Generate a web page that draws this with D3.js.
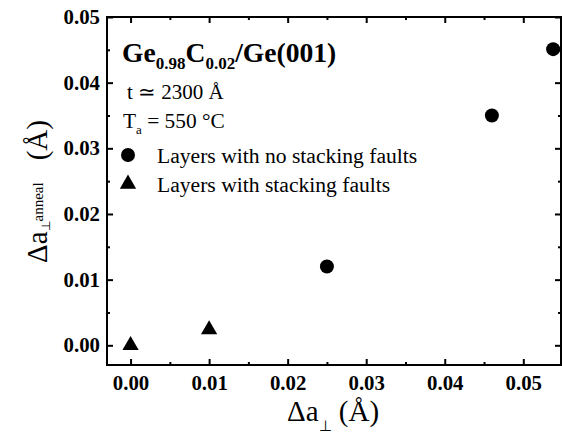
<!DOCTYPE html>
<html>
<head>
<meta charset="utf-8">
<script src="https://cdn.jsdelivr.net/npm/d3@7"></script>
<style>
  html, body { margin: 0; padding: 0; background: #fff; }
  svg { display: block; }
</style>
</head>
<body>
<svg id="chart" width="562" height="434"></svg>
<script>
// Layers without stacking faults (circles)
const noFaultX = [0.025, 0.046, 0.0538];
const noFaultY = [0.012, 0.035, 0.0451];
// Layers with stacking faults (triangles)
const faultX = [0.000, 0.010];
const faultY = [0.000, 0.0024];

const xTicks = [0.00, 0.01, 0.02, 0.03, 0.04, 0.05];
const yTicks = [0.00, 0.01, 0.02, 0.03, 0.04, 0.05];
const xMinor = [0.005, 0.015, 0.025, 0.035, 0.045];
const yMinor = [0.005, 0.015, 0.025, 0.035, 0.045];

const FONT = "'Liberation Serif'";

const svg = d3.select("#chart").style("font-family", FONT);
const L = 107, R = 561, T = 17, B = 365;

const x = d3.scaleLinear().domain([-0.003, 0.0548]).range([L, R]);
const y = d3.scaleLinear().domain([-0.003, 0.05]).range([B, T]);

const fmt = d3.format(".2f");

function styleAxis(g) {
  g.attr("font-family", null);
  g.select(".domain").remove();
  g.selectAll(".tick line").attr("stroke", "#000").attr("stroke-width", 2);
  g.selectAll(".tick text")
    .style("font-family", FONT)
    .style("font-weight", "bold")
    .style("font-size", "20.8px")
    .attr("fill", "#000");
}

// bottom axis: major + minor, ticks pointing inward
svg.append("g").attr("transform", `translate(0,${B})`)
  .call(d3.axisBottom(x).tickValues(xTicks).tickFormat(fmt).tickSize(-6).tickPadding(10))
  .call(styleAxis);
svg.append("g").attr("transform", `translate(0,${B})`)
  .call(d3.axisBottom(x).tickValues(xMinor).tickFormat("").tickSize(-3))
  .call(styleAxis);
// top axis
svg.append("g").attr("transform", `translate(0,${T})`)
  .call(d3.axisTop(x).tickValues(xTicks).tickFormat("").tickSize(-6))
  .call(styleAxis);
svg.append("g").attr("transform", `translate(0,${T})`)
  .call(d3.axisTop(x).tickValues(xMinor).tickFormat("").tickSize(-3))
  .call(styleAxis);
// left axis
svg.append("g").attr("transform", `translate(${L},0)`)
  .call(d3.axisLeft(y).tickValues(yTicks).tickFormat(fmt).tickSize(-6).tickPadding(7))
  .call(styleAxis);
svg.append("g").attr("transform", `translate(${L},0)`)
  .call(d3.axisLeft(y).tickValues(yMinor).tickFormat("").tickSize(-3))
  .call(styleAxis);
// right axis
svg.append("g").attr("transform", `translate(${R},0)`)
  .call(d3.axisRight(y).tickValues(yTicks).tickFormat("").tickSize(-6))
  .call(styleAxis);
svg.append("g").attr("transform", `translate(${R},0)`)
  .call(d3.axisRight(y).tickValues(yMinor).tickFormat("").tickSize(-3))
  .call(styleAxis);

// plot frame
svg.append("rect")
  .attr("x", L).attr("y", T).attr("width", R - L).attr("height", B - T)
  .attr("fill", "none").attr("stroke", "#000").attr("stroke-width", 2);

// markers
const tri = d3.symbol().type(d3.symbolTriangle).size(115);

svg.append("g").selectAll("circle")
  .data(noFaultX.map((v, i) => [v, noFaultY[i]]))
  .join("circle")
  .attr("cx", d => x(d[0])).attr("cy", d => y(d[1]))
  .attr("r", 7).attr("fill", "#000");

svg.append("g").selectAll("path")
  .data(faultX.map((v, i) => [v, faultY[i]]))
  .join("path")
  .attr("d", tri)
  .attr("transform", d => `translate(${x(d[0])},${y(d[1])})`)
  .attr("fill", "#000");

function label(xp, yp, size, weight) {
  return svg.append("text")
    .attr("x", xp).attr("y", yp)
    .style("font-family", FONT)
    .style("font-size", size + "px")
    .style("font-weight", weight || "normal")
    .attr("fill", "#000");
}

// annotation block
const title = label(122, 62, 27.6, "bold");
title.append("tspan").text("Ge");
title.append("tspan").attr("dy", 7).style("font-size", "17px").text("0.98");
title.append("tspan").attr("dy", -7).text("C");
title.append("tspan").attr("dy", 7).style("font-size", "17px").text("0.02");
title.append("tspan").attr("dy", -7).text("/Ge(001)");

label(127, 99, 21).text("t \u2243 2300 \u00C5");

const ta = label(123, 128, 21.4);
ta.append("tspan").text("T");
ta.append("tspan").attr("dy", 6).style("font-size", "13px").text("a");
ta.append("tspan").attr("dy", -6).text(" = 550 \u00B0C");

// legend
svg.append("circle").attr("cx", 128).attr("cy", 155).attr("r", 7).attr("fill", "#000");
label(157, 163, 21.6).text("Layers with no stacking faults");

svg.append("path").attr("d", tri)
  .attr("transform", "translate(128,184)").attr("fill", "#000");
label(157, 192, 21.6).text("Layers with stacking faults");

// axis titles
const xt = label(287, 421, 29);
xt.append("tspan").text("\u0394a");
xt.append("tspan").attr("dy", 10).style("font-size", "15px").text("\u22A5");
xt.append("tspan").attr("dy", -10).text(" (\u00C5)");

const yt = label(0, 0, 29)
  .attr("transform", "translate(47,263) rotate(-90)");
yt.append("tspan").text("\u0394a");
yt.append("tspan").attr("dy", 3).style("font-size", "12px").text("\u22A5");
yt.append("tspan").attr("dy", -7).style("font-size", "15px").text("anneal");
yt.append("tspan").attr("dy", 4).attr("dx", 22).text("(\u00C5)");
</script>
</body>
</html>
